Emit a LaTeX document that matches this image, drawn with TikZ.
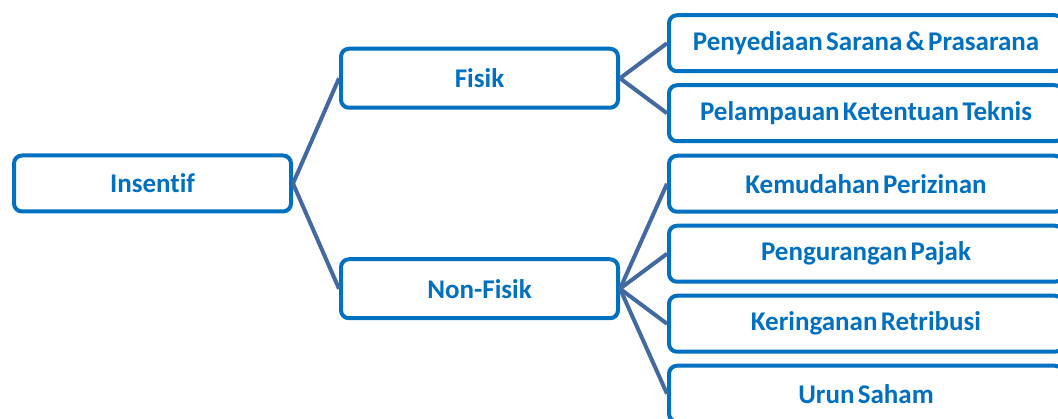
\documentclass[tikz,border=0pt]{standalone}
\usepackage{fontspec}
\setmainfont{Carlito}[Ligatures=NoCommon, WordSpace=0.55]
\definecolor{boxblue}{RGB}{0,112,192}
\definecolor{linkblue}{RGB}{66,106,160}

\tikzset{
    box/.style={draw=boxblue, line width=4pt, rounded corners=8pt, fill=white,
        text=boxblue, inner sep=0pt,
        font=\fontsize{27}{30}\selectfont\bfseries},
    rootbox/.style={box, minimum width=277pt, minimum height=56pt},
    groupbox/.style={box, minimum width=277pt, minimum height=59pt},
    itembox/.style={box, minimum width=394pt, minimum height=56pt}
}

\begin{document}
\begin{tikzpicture}[x=1pt, y=1pt, grow'=right,
    edge from parent/.style={draw=linkblue, line width=4pt},
    edge from parent path={(\tikzparentnode.east) -- (\tikzchildnode.west)}]

    \tikzstyle{level 1}=[level distance=327pt, sibling distance=210.5pt]
    \tikzstyle{level 2}=[level distance=386.5pt, sibling distance=70pt]

    \useasboundingbox (0,0) rectangle (1058,-419);

    \node[rootbox] (Root) at (152.5,-183.5) {Insentif}
    child {
        node[groupbox] (Fisik) {Fisik}
        child { 
            node[itembox] (Sarana) {Penyediaan Sarana \& Prasarana}
        }
        child { 
            node[itembox] (Teknis) {Pelampauan Ketentuan Teknis}
        }
    }
    child {
        node[groupbox] (NonFisik) {Non-Fisik}
        child { 
            node[itembox] (Izin) {Kemudahan Perizinan}
        }
        child { 
            node[itembox] (Pajak) {Pengurangan Pajak}
        }
        child { 
            node[itembox] (Retribusi) {Keringanan Retribusi}
        }
        child { 
            node[itembox] (Saham) {Urun Saham}
        }
    };
\end{tikzpicture}
\end{document}
